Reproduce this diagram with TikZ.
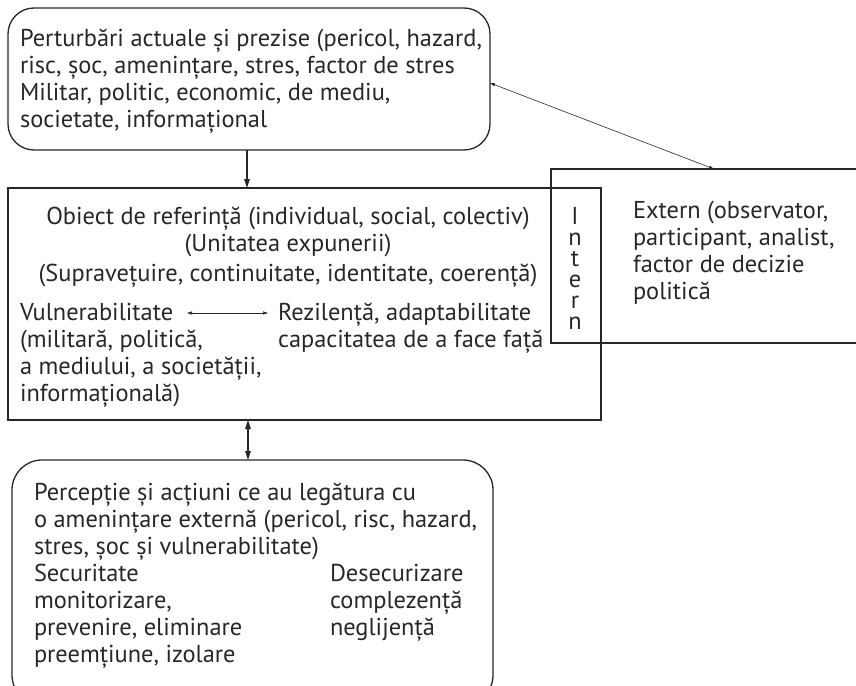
\documentclass[tikz,border=0pt]{standalone}
\usepackage{fontspec}
\setmainfont{PT Sans}
\usetikzlibrary{arrows.meta}
\definecolor{ink}{HTML}{2A2627}
\newsavebox\measbox
\AtBeginDocument{%
  \sbox\measbox{\fontsize{10pt}{12pt}\selectfont Perturbări actuale și prezise (pericol, hazard,}%
  \pgfmathsetmacro\tmpfs{4620/\the\wd\measbox}%
  \xdef\fs{\tmpfs}}
\begin{document}
\begin{tikzpicture}[x=1pt,y=-1pt,
  box/.style={draw=ink, line width=1.3pt, inner sep=0pt, outer sep=0pt, anchor=north west},
  tbase/.style={inner sep=0pt, outer sep=0pt, text=ink},
  txt/.style={tbase, align=left, font=\fontsize{\fs pt}{27pt}\selectfont, anchor=north west, yshift=18.9pt},
  ctxt/.style={tbase, align=center, font=\fontsize{\fs pt}{27pt}\selectfont, anchor=north, yshift=18.9pt},
  ltr/.style={tbase, font=\fontsize{\fs pt}{27pt}\selectfont, anchor=base},
  conn/.style={draw=ink, line width=1.4pt, -{Triangle[length=9pt,width=5.5pt]}},
  dconn/.style={draw=ink, line width=1.4pt, {Triangle[length=9pt,width=5.5pt]}-{Triangle[length=9pt,width=5.5pt]}},
  thinconn/.style={draw=ink, line width=0.6pt, {Triangle[length=5pt,width=3pt]}-{Triangle[length=5pt,width=3pt]}}]
\useasboundingbox (0,0) rectangle (856,685);

% boxes
\node[box, rounded corners=26pt, minimum width=482pt, minimum height=142pt] (top) at (8,8) {};
\node[box, minimum width=593pt, minimum height=232pt] (main) at (8,188) {};
\node[box, minimum width=310pt, minimum height=174pt] (ext) at (551,169) {};
\node[box, rounded corners=30pt, minimum width=481pt, minimum height=245pt] (bot) at (12,460) {};

% texts
\node[txt] (ttop) at (20,46.5) {\strut Perturbări actuale și prezise (pericol, hazard,\\
risc, șoc, amenințare, stres, factor de stres\\
Militar, politic, economic, de mediu,\\
societate, informațional};

\node[ctxt] (obj) at (288,224) {\strut Obiect de referință (individual, social, colectiv)\\
(Unitatea expunerii)};
\node[ctxt] (sup) at (288,281) {\strut (Supravețuire, continuitate, identitate, coerență)};

\node[txt] (vul) at (20,320) {\strut Vulnerabilitate\\
(militară, politică,\\
a mediului, a societății,\\
informațională)};
\node[txt] (rez) at (278,320) {\strut Rezilență, adaptabilitate\\
capacitatea de a face față};

\foreach \ch [count=\k from 0] in {I,n,t,e,r,n}
  \node[ltr] (int\k) at (575,224+21*\k) {\ch};

\node[txt] (extt) at (633,218) {\strut Extern (observator,\\
participant, analist,\\
factor de decizie\\
politică};

\node[txt] (perc) at (34,500) {\strut Percepție și acțiuni ce au legătura cu\\
o amenințare externă (pericol, risc, hazard,\\
stres, șoc și vulnerabilitate)\\
Securitate\\
monitorizare,\\
prevenire, eliminare\\
preemțiune, izolare};
\node[txt] (desec) at (330,581) {\strut Desecurizare\\
complezență\\
neglijență};

% connectors
\coordinate (va) at (187,313);
\coordinate (vb) at (268,313);
\draw[thinconn] (va) -- (vb);
\draw[conn] (top.south -| 247,0) -- (main.north -| 247,0);
\draw[dconn] (main.south -| 248,0) -- (bot.north -| 248,0);
\draw[thinconn] ([yshift=-4pt]top.east) -- ([xshift=8pt]ext.north);
\end{tikzpicture}
\end{document}
